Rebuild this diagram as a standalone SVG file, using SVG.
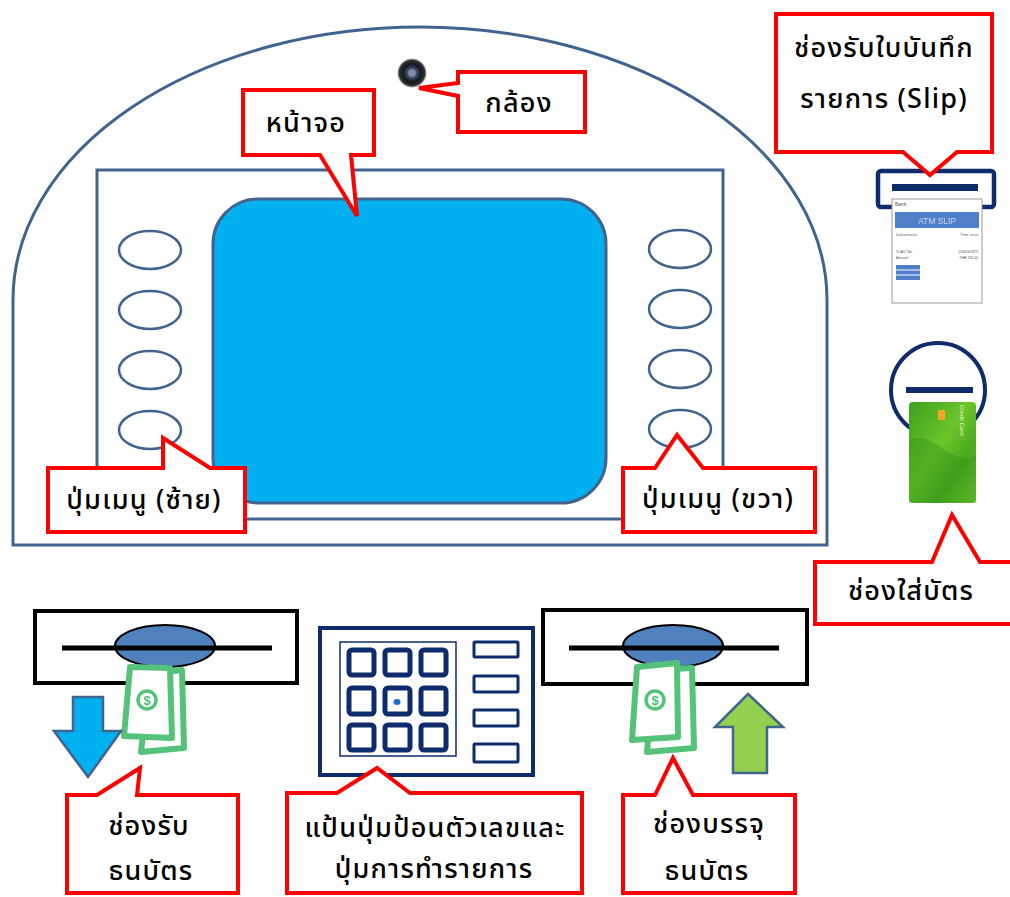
<svg xmlns="http://www.w3.org/2000/svg" width="1010" height="897" viewBox="0 0 1010 897">
  <style>
    .body { fill: #ffffff; stroke: #41648F; stroke-width: 3; }
    .menu { fill: #ffffff; stroke: #41648F; stroke-width: 2.5; }
    .callout { fill: #ffffff; stroke: #FF0000; stroke-width: 4; stroke-linejoin: miter; }
    .lbl { font-family: Tahoma, "Noto Sans Thai", "Leelawadee UI", "DejaVu Sans", "Noto Sans", sans-serif; font-size: 27px; font-weight: 500; letter-spacing: 1.2px; fill: #000000; text-anchor: middle; }
    .navy { fill: none; stroke: #0E2B6B; }
    .slot { fill: #ffffff; stroke: #000000; stroke-width: 4; }
    .bill { fill: #ffffff; stroke: #55C27A; stroke-width: 6; stroke-linejoin: round; }
    .tiny { font-family: "Liberation Sans", Arial, sans-serif; fill: #555555; }
  </style>
  <defs>
    <radialGradient id="lens" cx="0.5" cy="0.5" r="0.5">
      <stop offset="0" stop-color="#7A8AA8"/>
      <stop offset="0.35" stop-color="#3A4660"/>
      <stop offset="0.6" stop-color="#14161c"/>
      <stop offset="0.85" stop-color="#000000" stop-opacity="0.8"/>
      <stop offset="1" stop-color="#000000" stop-opacity="0"/>
    </radialGradient>
    <linearGradient id="cardGreen" x1="0" y1="0" x2="1" y2="1">
      <stop offset="0" stop-color="#3F9E1E"/>
      <stop offset="0.45" stop-color="#6CC52A"/>
      <stop offset="0.7" stop-color="#4BA81F"/>
      <stop offset="1" stop-color="#7AD033"/>
    </linearGradient>
  </defs>

  <!-- ATM front panel -->
  <g id="atm-body">
    <path class="body" d="M 13 545 L 13 300 A 407 273 0 0 1 827 300 L 827 545 Z"/>
    <rect class="body" x="97" y="170" width="626" height="349"/>
  </g>

  <!-- screen -->
  <g id="screen">
    <rect x="213" y="199" width="393" height="304" rx="45" ry="45" fill="#00B0F0" stroke="#41648F" stroke-width="3"/>
  </g>

  <!-- side menu buttons -->
  <g id="menu-left">
    <ellipse class="menu" cx="150" cy="250" rx="31" ry="19"/>
    <ellipse class="menu" cx="150" cy="310" rx="31" ry="19"/>
    <ellipse class="menu" cx="150" cy="370" rx="31" ry="19"/>
    <ellipse class="menu" cx="150" cy="430" rx="31" ry="19"/>
  </g>
  <g id="menu-right">
    <ellipse class="menu" cx="680" cy="249" rx="31" ry="19"/>
    <ellipse class="menu" cx="680" cy="309" rx="31" ry="19"/>
    <ellipse class="menu" cx="680" cy="369" rx="31" ry="19"/>
    <ellipse class="menu" cx="680" cy="429" rx="31" ry="19"/>
  </g>

  <!-- camera -->
  <g id="camera">
    <circle cx="412" cy="73" r="15" fill="url(#lens)"/>
    <circle cx="412" cy="73" r="4" fill="#8FA0C0" opacity="0.6"/>
  </g>

  <!-- slip printer slot with receipt -->
  <g id="slip-slot">
    <rect x="878" y="171" width="116" height="36" rx="3" fill="#ffffff" stroke="#0E2B6B" stroke-width="4.5"/>
    <rect x="892" y="184" width="86" height="7" fill="#0E2B6B"/>
    <rect x="892" y="199" width="90" height="104" fill="#ffffff" stroke="#9A9A9A" stroke-width="1"/>
    <text class="tiny" x="895" y="206" font-size="5">Bank</text>
    <rect x="895" y="212" width="84" height="16" fill="#4F7FC8"/>
    <text x="937" y="223.5" font-family="'Liberation Sans', Arial, sans-serif" font-size="8.5" fill="#C9D8F0" text-anchor="middle">ATM SLIP</text>
    <text class="tiny" x="896" y="236" font-size="3.5">Date:xx/xx/xx</text>
    <text class="tiny" x="978" y="236" font-size="3.5" text-anchor="end">Time: xx:xx</text>
    <text class="tiny" x="896" y="253" font-size="3.5">To A/C No.</text>
    <text class="tiny" x="978" y="253" font-size="3.5" text-anchor="end">2000562473</text>
    <text class="tiny" x="896" y="259" font-size="3.5">Amount</text>
    <text class="tiny" x="978" y="259" font-size="3.5" text-anchor="end">THB 125.00</text>
    <rect x="896" y="265" width="24" height="15" fill="#4F7FC8"/>
    <line x1="896" y1="270" x2="920" y2="270" stroke="#ffffff" stroke-width="1"/>
    <line x1="896" y1="275" x2="920" y2="275" stroke="#ffffff" stroke-width="1"/>
  </g>

  <!-- card reader with credit card -->
  <g id="card-slot">
    <circle cx="938" cy="390" r="47" fill="#ffffff" stroke="#0E2B6B" stroke-width="4"/>
    <rect x="906" y="387" width="67" height="6" fill="#0E2B6B"/>
    <rect x="909" y="402" width="67" height="101" rx="4" fill="url(#cardGreen)"/>
    <path d="M 909 440 C 935 430 955 470 976 455 L 976 503 L 909 503 Z" fill="#2F8A18" opacity="0.35"/>
    <rect x="938" y="410" width="7" height="10" rx="1" fill="#F5A623"/>
    <text x="960" y="405" font-family="'Liberation Sans', Arial, sans-serif" font-size="6" fill="#E8F5D8" transform="rotate(90 960 405)">Credit Card</text>
  </g>

  <!-- cash dispenser (left) -->
  <g id="cash-out">
    <rect class="slot" x="35" y="611" width="262" height="72"/>
    <ellipse cx="165" cy="646" rx="50" ry="21" fill="#4F81BD" stroke="#000000" stroke-width="2"/>
    <line x1="62" y1="648" x2="272" y2="648" stroke="#000000" stroke-width="5"/>
    <polygon class="bill" points="150,674 182,670 184,748 141,752"/>
    <polygon class="bill" points="130,667 170,668 172,738 124,736"/>
    <circle cx="147" cy="700" r="9" fill="none" stroke="#55C27A" stroke-width="3.5"/>
    <text x="147" y="705" font-family="'Liberation Sans', Arial, sans-serif" font-size="13" font-weight="bold" fill="#55C27A" text-anchor="middle">$</text>
    <polygon points="73,697 103,697 103,731 121,731 88,777 54,731 73,731" fill="#00B0F0" stroke="#41648F" stroke-width="2.5"/>
  </g>

  <!-- keypad -->
  <g id="keypad">
    <rect x="320" y="628" width="213" height="147" fill="#ffffff" stroke="#0E2B6B" stroke-width="4"/>
    <rect x="340" y="642" width="116" height="114" fill="#ffffff" stroke="#0E2B6B" stroke-width="1.5"/>
    <g class="navy" stroke-width="5">
      <rect x="349" y="650" width="25" height="25" rx="3"/>
      <rect x="385" y="650" width="25" height="25" rx="3"/>
      <rect x="421" y="650" width="25" height="25" rx="3"/>
      <rect x="349" y="688" width="25" height="26" rx="3"/>
      <rect x="385" y="688" width="25" height="26" rx="3"/>
      <rect x="421" y="688" width="25" height="26" rx="3"/>
      <rect x="349" y="725" width="25" height="25" rx="3"/>
      <rect x="385" y="725" width="25" height="25" rx="3"/>
      <rect x="421" y="725" width="25" height="25" rx="3"/>
    </g>
    <ellipse cx="397" cy="702" rx="3.5" ry="3" fill="#1F6FC8"/>
    <g class="navy" stroke-width="3">
      <rect x="474" y="642" width="44" height="15" rx="1"/>
      <rect x="474" y="676" width="44" height="16" rx="1"/>
      <rect x="474" y="710" width="44" height="16" rx="1"/>
      <rect x="474" y="744" width="44" height="18" rx="1"/>
    </g>
  </g>

  <!-- cash deposit (right) -->
  <g id="cash-in">
    <rect class="slot" x="543" y="610" width="264" height="74"/>
    <ellipse cx="673" cy="646" rx="50" ry="21" fill="#4F81BD" stroke="#000000" stroke-width="2"/>
    <line x1="569" y1="648" x2="779" y2="648" stroke="#000000" stroke-width="5"/>
    <polygon class="bill" points="654,670 692,668 694,748 647,752"/>
    <polygon class="bill" points="637,667 677,663 678,737 632,740"/>
    <circle cx="655" cy="700" r="9" fill="none" stroke="#55C27A" stroke-width="3.5"/>
    <text x="655" y="705" font-family="'Liberation Sans', Arial, sans-serif" font-size="13" font-weight="bold" fill="#55C27A" text-anchor="middle">$</text>
    <polygon points="748,694 783,727 767,727 767,773 733,773 733,727 715,727" fill="#92D050" stroke="#41648F" stroke-width="2.5"/>
  </g>

  <!-- label callouts -->
  <g id="connectors">
    <g id="callout-screen">
      <path class="callout" d="M 243 90 L 374 90 L 374 155 L 351 155 L 357 216 L 320 155 L 243 155 Z"/>
      <text class="lbl" x="306" y="132">หน้าจอ</text>
    </g>
    <g id="callout-camera">
      <path class="callout" d="M 458 72 L 585 72 L 585 132 L 458 132 L 458 96 L 419 88 L 458 83 Z"/>
      <text class="lbl" x="519" y="112">กล้อง</text>
    </g>
    <g id="callout-slip">
      <path class="callout" d="M 776 14 L 992 14 L 992 152 L 957 152 L 930 175 L 903 152 L 776 152 Z"/>
      <text class="lbl" x="884" y="57">ช่องรับใบบันทึก</text>
      <text class="lbl" x="884" y="108">รายการ (Slip)</text>
    </g>
    <g id="callout-menu-left">
      <path class="callout" d="M 48 468 L 163 468 L 163 438 L 210 468 L 245 468 L 245 532 L 48 532 Z"/>
      <text class="lbl" x="144" y="509">ปุ่มเมนู (ซ้าย)</text>
    </g>
    <g id="callout-menu-right">
      <path class="callout" d="M 623 468 L 655 468 L 677 435 L 703 468 L 815 468 L 815 532 L 623 532 Z"/>
      <text class="lbl" x="718" y="508">ปุ่มเมนู (ขวา)</text>
    </g>
    <g id="callout-card">
      <path class="callout" d="M 815 562 L 932 562 L 952 515 L 980 562 L 1016 562 L 1016 624 L 815 624 Z"/>
      <text class="lbl" x="911" y="600">ช่องใส่บัตร</text>
    </g>
    <g id="callout-cash-out">
      <path class="callout" d="M 67 795 L 97 795 L 140 768 L 137 795 L 238 795 L 238 893 L 67 893 Z"/>
      <text class="lbl" x="149" y="835">ช่องรับ</text>
      <text class="lbl" x="151" y="880">ธนบัตร</text>
    </g>
    <g id="callout-keypad">
      <path class="callout" d="M 287 793 L 337 793 L 377 768 L 410 793 L 582 793 L 582 893 L 287 893 Z"/>
      <text class="lbl" x="435" y="837">แป้นปุ่มป้อนตัวเลขและ</text>
      <text class="lbl" x="434" y="878">ปุ่มการทำรายการ</text>
    </g>
    <g id="callout-cash-in">
      <path class="callout" d="M 623 795 L 655 795 L 673 758 L 693 795 L 795 795 L 795 893 L 623 893 Z"/>
      <text class="lbl" x="709" y="833">ช่องบรรจุ</text>
      <text class="lbl" x="707" y="880">ธนบัตร</text>
    </g>
  </g>
</svg>
